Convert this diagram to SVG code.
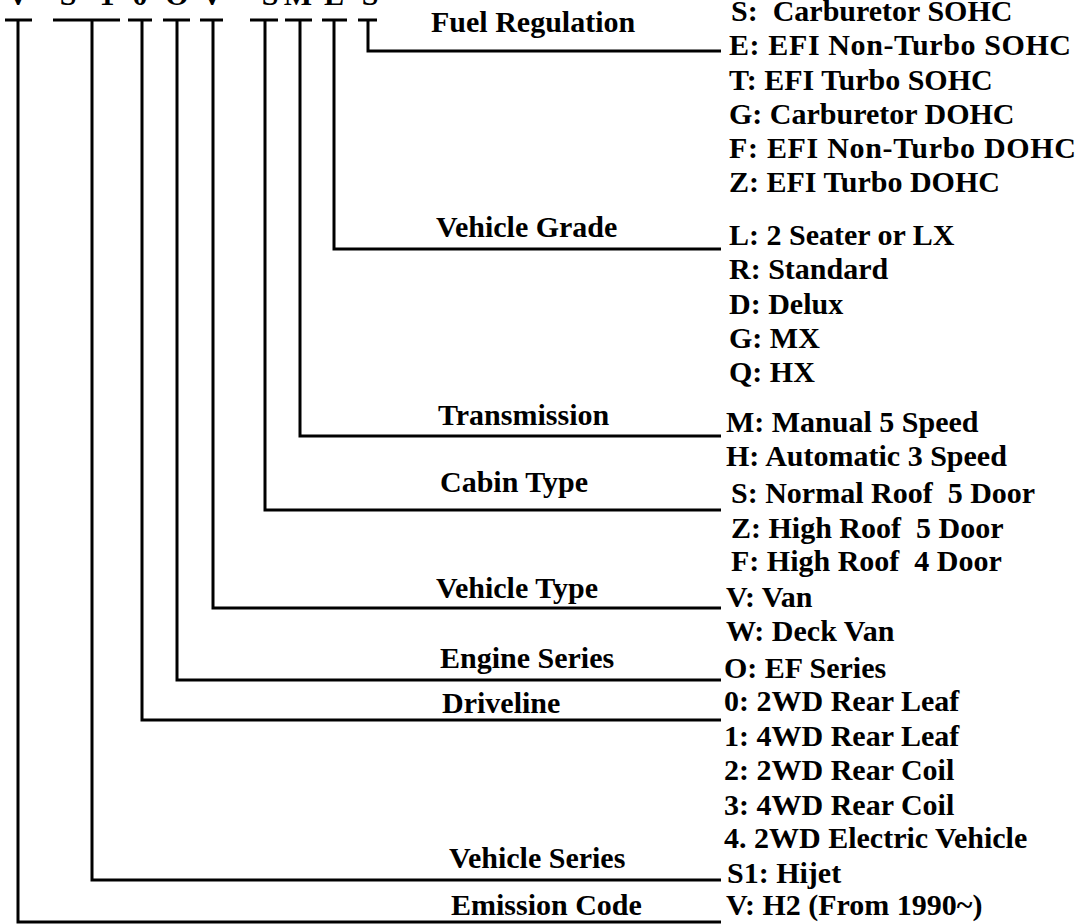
<svg xmlns="http://www.w3.org/2000/svg" width="1084" height="924" viewBox="0 0 1084 924">
<style>
text{font-family:"Liberation Serif","Times New Roman",serif;font-weight:bold;font-size:30px;fill:#000;white-space:pre}
.c{text-anchor:middle}
.w{fill:none;stroke:#000;stroke-width:3;stroke-linejoin:miter;stroke-linecap:butt}
</style>
<rect width="1084" height="924" fill="#fff"/>
<g id="code">
<text class="c" x="18" y="5">V</text>
<text class="c" x="68" y="5">S</text>
<text class="c" x="107" y="5">1</text>
<text class="c" x="140" y="5">0</text>
<text class="c" x="177" y="5">O</text>
<text class="c" x="212" y="5">V</text>
<text class="c" x="270" y="5">S</text>
<text class="c" x="298" y="5">M</text>
<text class="c" x="334" y="5">L</text>
<text class="c" x="370" y="5">S</text>
</g>
<g id="connectors" class="w">
<path d="M5 20H32M18 20V922H721"/>
<path d="M53 20H120M92 20V880H721"/>
<path d="M128 20H152M142 20V720H721"/>
<path d="M163 20H190M177 20V680H721"/>
<path d="M200 20H223M213 20V608H721"/>
<path d="M250 20H278M265 20V510H721"/>
<path d="M285 20H312M300 20V436H721"/>
<path d="M322 20H347M334 20V249H721"/>
<path d="M358 20H377M368 20V51H721"/>
</g>
<g id="fuel">
<text x="431" y="32">Fuel Regulation</text>
<text x="731" y="21">S:  Carburetor SOHC</text>
<text x="729" y="55" textLength="342">E: EFI Non-Turbo SOHC</text>
<text x="729" y="90">T: EFI Turbo SOHC</text>
<text x="729" y="124">G: Carburetor DOHC</text>
<text x="729" y="158" textLength="347">F: EFI Non-Turbo DOHC</text>
<text x="729" y="192">Z: EFI Turbo DOHC</text>
</g>
<g id="grade">
<text x="436" y="237">Vehicle Grade</text>
<text x="729" y="245">L: 2 Seater or LX</text>
<text x="729" y="279">R: Standard</text>
<text x="729" y="314">D: Delux</text>
<text x="729" y="348">G: MX</text>
<text x="729" y="382">Q: HX</text>
</g>
<g id="transmission">
<text x="438" y="425">Transmission</text>
<text x="726" y="432">M: Manual 5 Speed</text>
<text x="726" y="466">H: Automatic 3 Speed</text>
</g>
<g id="cabin">
<text x="440" y="492">Cabin Type</text>
<text x="731" y="503">S: Normal Roof  5 Door</text>
<text x="731" y="538">Z: High Roof  5 Door</text>
<text x="731" y="571">F: High Roof  4 Door</text>
</g>
<g id="vtype">
<text x="436" y="598">Vehicle Type</text>
<text x="726" y="607">V: Van</text>
<text x="726" y="641">W: Deck Van</text>
</g>
<g id="engine">
<text x="440" y="668">Engine Series</text>
<text x="724" y="678">O: EF Series</text>
</g>
<g id="driveline">
<text x="442" y="713">Driveline</text>
<text x="724" y="711">0: 2WD Rear Leaf</text>
<text x="724" y="746">1: 4WD Rear Leaf</text>
<text x="724" y="780">2: 2WD Rear Coil</text>
<text x="724" y="815">3: 4WD Rear Coil</text>
<text x="724" y="848">4. 2WD Electric Vehicle</text>
</g>
<g id="vseries">
<text x="449" y="868">Vehicle Series</text>
<text x="727" y="883">S1: Hijet</text>
</g>
<g id="emission">
<text x="451" y="915">Emission Code</text>
<text x="726" y="915">V: H2 (From 1990~)</text>
</g>
</svg>
